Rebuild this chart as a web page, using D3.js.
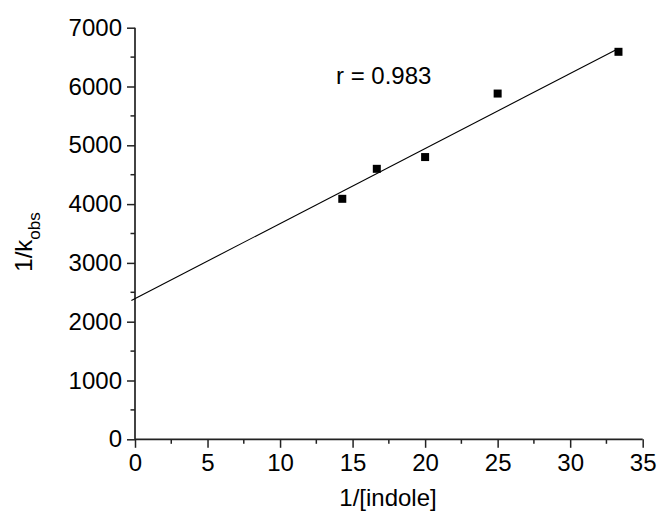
<!DOCTYPE html>
<html>
<head>
<meta charset="utf-8">
<script src="https://cdn.jsdelivr.net/npm/d3@7"></script>
<style>
  body { margin: 0; background: #fff; }
  svg { display: block; font-family: "Liberation Sans", Arial, sans-serif; }
</style>
</head>
<body>
<svg id="chart" width="657" height="515"></svg>
<script>
// Data
const xValues = [14.29, 16.67, 20.0, 25.0, 33.33];      // 1/[indole]
const yValues = [4090, 4600, 4800, 5880, 6590];         // 1/k_obs
const fitX = [-0.25, 33.1];                             // fitted line ends
const fitY = [2361, 6617];
const xTicks = [0, 5, 10, 15, 20, 25, 30, 35];
const yTicks = [0, 1000, 2000, 3000, 4000, 5000, 6000, 7000];
const annotation = "r = 0.983";

const svg = d3.select("#chart");
const x = d3.scaleLinear().domain([0, 35]).range([135, 642.7]);
const y = d3.scaleLinear().domain([0, 7000]).range([439.3, 27.7]);

const axisColor = "#222";

// Minor ticks
const xMinor = d3.range(2.5, 35, 5);
const yMinor = d3.range(500, 7000, 1000);

svg.append("g").selectAll("line").data(xMinor).join("line")
  .attr("x1", d => x(d)).attr("x2", d => x(d))
  .attr("y1", y(0)).attr("y2", y(0) + 4.5)
  .attr("stroke", axisColor).attr("stroke-width", 1.5);
svg.append("g").selectAll("line").data(yMinor).join("line")
  .attr("y1", d => y(d)).attr("y2", d => y(d))
  .attr("x1", x(0)).attr("x2", x(0) - 4.5)
  .attr("stroke", axisColor).attr("stroke-width", 1.5);

// X axis
const gx = svg.append("g").attr("transform", `translate(0,${y(0)})`)
  .call(d3.axisBottom(x).tickValues(xTicks).tickSize(8.5).tickPadding(6).tickFormat(d3.format("d")));
// Y axis
const gy = svg.append("g").attr("transform", `translate(${x(0)},0)`)
  .call(d3.axisLeft(y).tickValues(yTicks).tickSize(8).tickPadding(5).tickFormat(d3.format("d")));

[gx, gy].forEach(g => {
  g.select(".domain").attr("stroke", axisColor).attr("stroke-width", 1.7);
  g.selectAll(".tick line").attr("stroke", axisColor).attr("stroke-width", 1.5);
  g.selectAll(".tick text").attr("fill", "#000")
    .style("font-size", "24px").style("font-family", '"Liberation Sans", Arial, sans-serif');
});
gx.select(".domain").attr("d", `M${x(0)},0H${x(35)}`);
gy.select(".domain").attr("d", `M0,${y(0)}V${y(7000)}`);

// Fit line
svg.append("line")
  .attr("x1", x(fitX[0])).attr("y1", y(fitY[0]))
  .attr("x2", x(fitX[1])).attr("y2", y(fitY[1]))
  .attr("stroke", "#000").attr("stroke-width", 1.1);

// Points
const ms = 8;
svg.append("g").selectAll("rect").data(xValues.map((d, i) => [d, yValues[i]])).join("rect")
  .attr("x", d => x(d[0]) - ms / 2).attr("y", d => y(d[1]) - ms / 2)
  .attr("width", ms).attr("height", ms).attr("fill", "#000");

// Annotation
svg.append("text").attr("x", 336).attr("y", 84)
  .style("font-size", "24px").attr("fill", "#000").text(annotation);

// X label
svg.append("text").attr("x", 388).attr("y", 506).attr("text-anchor", "middle")
  .style("font-size", "24px").attr("fill", "#000").text("1/[indole]");

// Y label
const yl = svg.append("text").attr("transform", "translate(32,242) rotate(-90)")
  .attr("text-anchor", "middle").style("font-size", "24px").attr("fill", "#000");
yl.append("tspan").text("1/k");
yl.append("tspan").attr("dy", 8).style("font-size", "17px").text("obs");
</script>
</body>
</html>
